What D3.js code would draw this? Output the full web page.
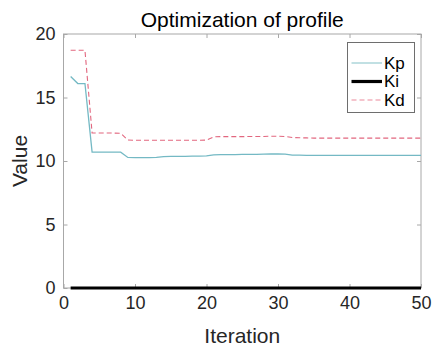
<!DOCTYPE html>
<html>
<head>
<meta charset="utf-8">
<script src="https://cdn.jsdelivr.net/npm/d3@7"></script>
<style>
html,body{margin:0;padding:0;background:#fff;}
svg{display:block;font-family:"Liberation Sans",Arial,sans-serif;}
</style>
</head>
<body>
<svg id="chart" width="434" height="349"></svg>
<script>
const iterations = d3.range(1, 51);
const kp = [16.65,16.1,16.1,10.7,10.7,10.7,10.7,10.7,10.28,10.26,
            10.26,10.26,10.28,10.34,10.36,10.36,10.36,10.38,10.38,10.4,
            10.48,10.5,10.5,10.5,10.52,10.52,10.52,10.54,10.55,10.55,
            10.54,10.46,10.46,10.45,10.45,10.45,10.45,10.45,10.45,10.45,
            10.45,10.45,10.45,10.45,10.45,10.45,10.45,10.45,10.45,10.45];
const ki = new Array(50).fill(0);
const kd = [18.72,18.72,18.72,12.2,12.2,12.2,12.2,12.18,11.65,11.63,
            11.63,11.63,11.63,11.63,11.63,11.63,11.63,11.63,11.63,11.65,
            11.9,11.92,11.92,11.92,11.92,11.93,11.93,11.93,11.95,11.95,
            11.93,11.85,11.83,11.82,11.8,11.8,11.8,11.8,11.8,11.8,
            11.8,11.8,11.8,11.8,11.8,11.8,11.8,11.8,11.8,11.8];
const xTicks = [0,10,20,30,40,50];
const yTicks = [0,5,10,15,20];
const seriesNames = ["Kp","Ki","Kd"];

const svg = d3.select("#chart");
const L = 63.5, R = 421, T = 34, B = 288;
const x = d3.scaleLinear().domain([0,50]).range([L,R]);
const y = d3.scaleLinear().domain([0,20]).range([B,T]);

const axisColor = "#a8a8a8", textColor = "#262626";

// axes box
svg.append("rect").attr("x",L).attr("y",T).attr("width",R-L).attr("height",B-T)
  .attr("fill","#fff").attr("stroke",axisColor).attr("stroke-width",1);

const xAxisB = svg.append("g").attr("transform",`translate(0,${B})`)
  .call(d3.axisBottom(x).tickValues(xTicks).tickSize(-4).tickPadding(8).tickFormat(d3.format("d")));
const xAxisT = svg.append("g").attr("transform",`translate(0,${T})`)
  .call(d3.axisTop(x).tickValues(xTicks).tickSize(-4).tickFormat(""));
const yAxisL = svg.append("g").attr("transform",`translate(${L},0)`)
  .call(d3.axisLeft(y).tickValues(yTicks).tickSize(-4).tickPadding(8).tickFormat(d3.format("d")));
const yAxisR = svg.append("g").attr("transform",`translate(${R},0)`)
  .call(d3.axisRight(y).tickValues(yTicks).tickSize(-4).tickFormat(""));
[xAxisB,xAxisT,yAxisL,yAxisR].forEach(g=>{
  g.select(".domain").remove();
  g.selectAll(".tick line").attr("stroke",axisColor);
  g.selectAll(".tick text").attr("fill",textColor).style("font-size","18px")
   .style("font-family","'Liberation Sans',Arial,sans-serif");
});

const line = d3.line().x((d,i)=>x(iterations[i])).y(d=>y(d));
svg.append("path").datum(kp).attr("d",line).attr("fill","none")
  .attr("stroke","#74b9c4").attr("stroke-width",1.3);
svg.append("path").datum(kd).attr("d",line).attr("fill","none")
  .attr("stroke","#e2677f").attr("stroke-width",1.1).attr("stroke-dasharray","5,3");
svg.append("path").datum(ki).attr("d",line).attr("fill","none")
  .attr("stroke","#000").attr("stroke-width",3.2);

// title and labels
svg.append("text").attr("x",(L+R)/2).attr("y",27).attr("text-anchor","middle")
  .attr("fill","#000").style("font-size","21px").text("Optimization of profile");
svg.append("text").attr("x",(L+R)/2).attr("y",343).attr("text-anchor","middle")
  .attr("fill",textColor).style("font-size","21px").text("Iteration");
svg.append("text").attr("transform",`translate(27,${(T+B)/2}) rotate(-90)`)
  .attr("text-anchor","middle").attr("fill",textColor).style("font-size","21px").text("Value");

// legend
const lg = svg.append("g");
lg.append("rect").attr("x",347.5).attr("y",42.5).attr("width",67).attr("height",70)
  .attr("fill","#fff").attr("stroke","#6e6e6e").attr("stroke-width",1);
const legStyles = [
  {c:"#9fd0d4",w:1.3,dash:null},
  {c:"#000",w:3.2,dash:null},
  {c:"#eb8a9c",w:1.1,dash:"5,3"}
];
const legY = [63,81.5,100];
seriesNames.forEach((n,i)=>{
  const s = legStyles[i];
  const l = lg.append("line").attr("x1",351.5).attr("x2",382).attr("y1",legY[i]).attr("y2",legY[i])
    .attr("stroke",s.c).attr("stroke-width",s.w);
  if(s.dash) l.attr("stroke-dasharray",s.dash);
  lg.append("text").attr("x",384).attr("y",legY[i]).attr("dy","0.35em")
    .attr("fill","#000").style("font-size","17px").text(n);
});
</script>
</body>
</html>
